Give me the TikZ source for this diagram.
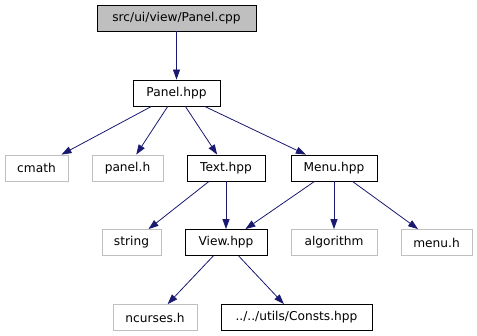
\documentclass[tikz,border=0pt]{standalone}
\usepackage{fontspec}
\setmainfont{DejaVu Sans}
\usetikzlibrary{arrows.meta}
\definecolor{edgeblue}{HTML}{191970}
\definecolor{sysgray}{HTML}{BFBFBF}

\begin{document}
\begin{tikzpicture}[x=1pt, y=-1pt,
  font=\fontsize{12.2}{14}\selectfont,
  file/.style={draw=black, rectangle, minimum height=26pt, inner xsep=6pt, line width=0.8pt},
  sys/.style={draw=sysgray, rectangle, minimum height=26pt, inner xsep=6pt, line width=0.8pt},
  inc/.style={draw=edgeblue, line width=0.8pt, -{Triangle[length=10pt,width=7pt]}}]
\useasboundingbox (0,0) rectangle (477,336);

\node[file, fill=sysgray, minimum width=159pt] (P) at (176.5,18) {src/ui/view/Panel.cpp};
\node[file, minimum width=87pt] (PH) at (176.5,93) {Panel.hpp};

\node[sys, minimum width=63pt] (cm) at (36.5,168) {cmath};
\node[sys, minimum width=71pt] (ph) at (127.5,168) {panel.h};
\node[file, minimum width=78pt] (T) at (226,168) {Text.hpp};
\node[file, minimum width=86pt] (M) at (334,168) {Menu.hpp};

\node[sys, minimum width=59pt] (str) at (131.5,242.5) {string};
\node[file, minimum width=82pt] (V) at (226,242.5) {View.hpp};
\node[sys, minimum width=86pt] (alg) at (334,242.5) {algorithm};
\node[sys, minimum width=71pt] (mh) at (436.5,242.5) {menu.h};

\node[sys, minimum width=84pt] (nc) at (155,317.5) {ncurses.h};
\node[file, minimum width=151pt] (C) at (296.5,317.5) {../../utils/Consts.hpp};

\draw[inc] (P) -- (PH);
\draw[inc] (PH) -- (cm);
\draw[inc] (PH) -- (ph);
\draw[inc] (PH) -- (T);
\draw[inc] (PH) -- (M);
\draw[inc] (T) -- (str);
\draw[inc] (T) -- (V);
\draw[inc] (M) -- (V);
\draw[inc] (M) -- (alg);
\draw[inc] (M) -- (mh);
\draw[inc] (V) -- (nc);
\draw[inc] (V) -- (C);
\end{tikzpicture}
\end{document}
